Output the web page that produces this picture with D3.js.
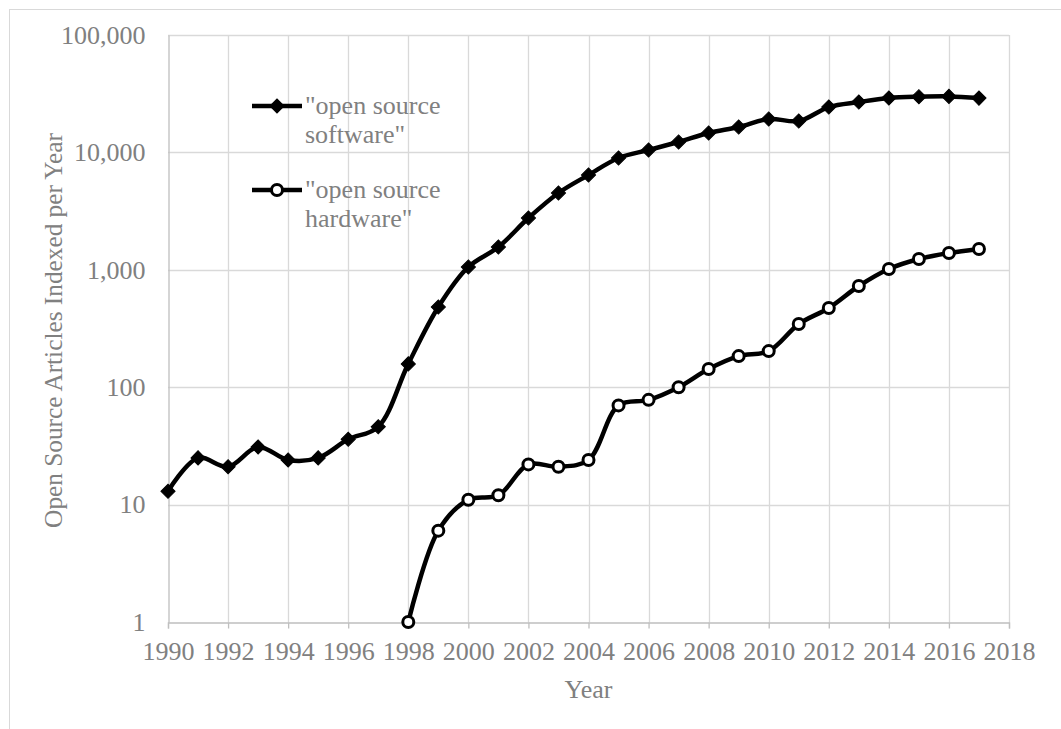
<!DOCTYPE html>
<html>
<head>
<meta charset="utf-8">
<script src="https://cdn.jsdelivr.net/npm/d3@7"></script>
<style>
  html, body { margin: 0; padding: 0; background: #fff; }
  svg { display: block; font-family: "Liberation Serif", "Times New Roman", serif; }
</style>
</head>
<body>
<svg id="chart" width="1061" height="729"></svg>
<script>
// Yearly counts of indexed articles
const softwareYears = d3.range(1990, 2018);
const softwareCounts = [13, 25, 21, 31, 24, 25, 36, 46, 158, 482, 1057, 1564, 2760, 4510,
  6420, 8960, 10480, 12270, 14630, 16450, 19260, 18500, 24350, 26860, 29060, 29800, 30000, 29000];
const hardwareYears = d3.range(1998, 2018);
const hardwareCounts = [1, 6, 11, 12, 22, 21, 24, 70, 78, 100, 143, 184, 203, 345, 473, 728,
  1016, 1236, 1390, 1504];
const xTicks = d3.range(1990, 2019, 2);
const yTicks = [1, 10, 100, 1000, 10000, 100000];
const seriesNames = ["\"open source software\"", "\"open source hardware\""];

const svg = d3.select("#chart");
const margin = { left: 168, right: 1009, top: 35, bottom: 622 };

const x = d3.scaleLinear().domain([1990, 2018]).range([margin.left, margin.right]);
const y = d3.scaleLog().domain([1, 100000]).range([margin.bottom, margin.top]);

const gridColor = "#d9d9d9";
const axisColor = "#bfbfbf";
const textColor = "#808080";
const fontSize = "26px";

// outer chart frame
svg.append("rect")
  .attr("x", 9.5).attr("y", 9.5)
  .attr("width", 1100).attr("height", 800)
  .attr("fill", "none").attr("stroke", gridColor).attr("stroke-width", 1);

// gridlines
const grid = svg.append("g");
grid.selectAll("line.v").data(xTicks.slice(1)).join("line")
  .attr("x1", d => Math.round(x(d)) + 0.5).attr("x2", d => Math.round(x(d)) + 0.5)
  .attr("y1", margin.top).attr("y2", margin.bottom)
  .attr("stroke", gridColor).attr("stroke-width", 1.3);
grid.selectAll("line.h").data(yTicks.slice(1)).join("line")
  .attr("x1", margin.left).attr("x2", margin.right)
  .attr("y1", d => Math.round(y(d)) + 0.5).attr("y2", d => Math.round(y(d)) + 0.5)
  .attr("stroke", gridColor).attr("stroke-width", 1.3);

// x axis
const xAxis = svg.append("g")
  .attr("transform", `translate(0,${Math.round(y(1)) + 0.5})`)
  .call(d3.axisBottom(x).tickValues(xTicks).tickFormat(d3.format("d")).tickSize(6).tickPadding(13));
xAxis.select(".domain").attr("stroke", axisColor).attr("stroke-width", 1.3);
xAxis.selectAll(".tick line").attr("stroke", axisColor).attr("stroke-width", 1.3);
xAxis.selectAll("text").attr("fill", textColor).style("font-size", fontSize)
  .style("font-family", "Liberation Serif, Times New Roman, serif");

// y axis
const yAxis = svg.append("g")
  .attr("transform", `translate(${Math.round(x(1990)) + 0.5},0)`)
  .call(d3.axisLeft(y).tickValues(yTicks).tickFormat(d3.format(",d")).tickSize(0).tickPadding(23));
yAxis.select(".domain").attr("stroke", axisColor).attr("stroke-width", 1.3);
yAxis.selectAll("text").attr("fill", textColor).style("font-size", fontSize)
  .style("font-family", "Liberation Serif, Times New Roman, serif");

// axis titles
svg.append("text")
  .attr("x", (margin.left + margin.right) / 2).attr("y", 698)
  .attr("text-anchor", "middle").attr("fill", textColor).style("font-size", fontSize)
  .text("Year");
svg.append("text")
  .attr("transform", `translate(62,${(margin.top + margin.bottom) / 2 + 2}) rotate(-90)`)
  .attr("text-anchor", "middle").attr("fill", textColor).style("font-size", "25.3px")
  .text("Open Source Articles Indexed per Year");

// series
const line = d3.line().x(d => x(d[0])).y(d => y(d[1])).curve(d3.curveCatmullRom.alpha(0.5));
const software = softwareYears.map((yr, i) => [yr, softwareCounts[i]]);
const hardware = hardwareYears.map((yr, i) => [yr, hardwareCounts[i]]);

svg.append("path").datum(software).attr("d", line)
  .attr("fill", "none").attr("stroke", "#000").attr("stroke-width", 4.5)
  .attr("stroke-linejoin", "round");
svg.append("g").selectAll("path").data(software).join("path")
  .attr("transform", d => `translate(${x(d[0])},${y(d[1])}) rotate(45)`)
  .attr("d", d3.symbol().type(d3.symbolSquare).size(100))
  .attr("fill", "#000").attr("stroke", "#000").attr("stroke-width", 1);

svg.append("path").datum(hardware).attr("d", line)
  .attr("fill", "none").attr("stroke", "#000").attr("stroke-width", 4.5)
  .attr("stroke-linejoin", "round");
svg.append("g").selectAll("circle").data(hardware).join("circle")
  .attr("cx", d => x(d[0])).attr("cy", d => y(d[1])).attr("r", 5.5)
  .attr("fill", "#fff").attr("stroke", "#000").attr("stroke-width", 3);

// legend
const legend = svg.append("g");
const legendRows = [
  { y: 106, name: seriesNames[0], marker: "diamond" },
  { y: 190, name: seriesNames[1], marker: "circle" }
];
legendRows.forEach(row => {
  legend.append("line")
    .attr("x1", 252).attr("x2", 302).attr("y1", row.y).attr("y2", row.y)
    .attr("stroke", "#000").attr("stroke-width", 4.5);
  if (row.marker === "diamond") {
    legend.append("path")
      .attr("transform", `translate(277,${row.y}) rotate(45)`)
      .attr("d", d3.symbol().type(d3.symbolSquare).size(100))
      .attr("fill", "#000").attr("stroke", "#000").attr("stroke-width", 1);
  } else {
    legend.append("circle").attr("cx", 277).attr("cy", row.y).attr("r", 5.5)
      .attr("fill", "#fff").attr("stroke", "#000").attr("stroke-width", 3);
  }
  const words = row.name.split(" ");
  const t = legend.append("text").attr("x", 305).attr("y", row.y + 8)
    .attr("fill", textColor).style("font-size", fontSize);
  t.append("tspan").attr("x", 305).text(words.slice(0, 2).join(" "));
  t.append("tspan").attr("x", 305).attr("dy", 29).text(words.slice(2).join(" "));
});
</script>
</body>
</html>
